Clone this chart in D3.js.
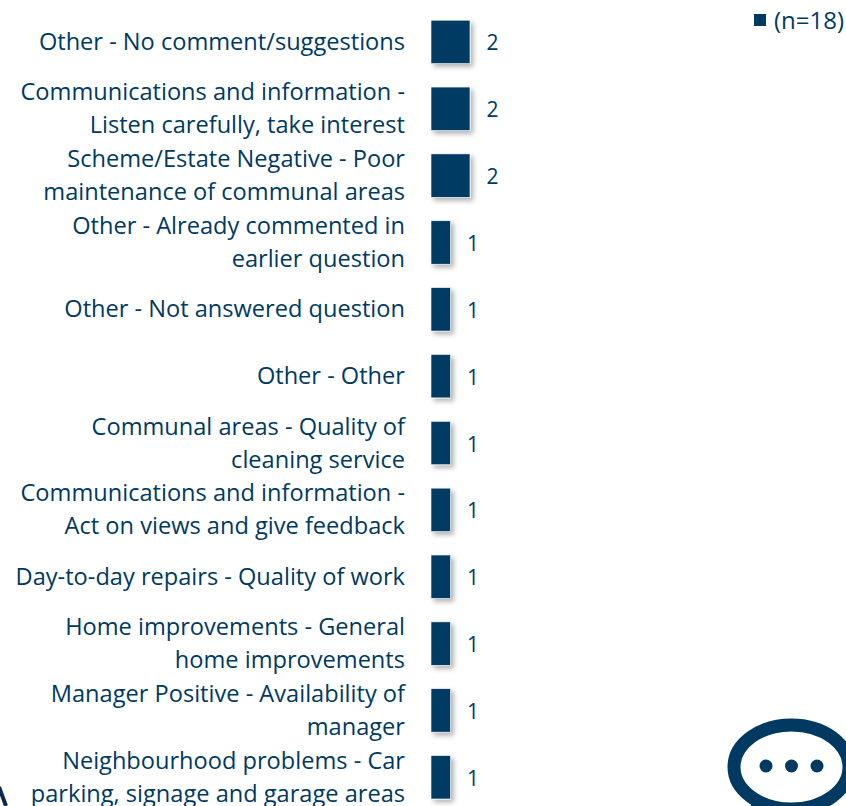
<!DOCTYPE html>
<html>
<head>
<meta charset="utf-8">
<script src="https://cdn.jsdelivr.net/npm/d3@7"></script>
<style>
html, body { margin: 0; padding: 0; background: #fff; overflow: hidden; }
svg { display: block; }
text { font-family: "Open Sans", sans-serif; fill: #003A63; }
</style>
</head>
<body>
<div id="app"></div>
<script>
const categories = [
    ["Other - No comment/suggestions"],
    ["Communications and information -", "Listen carefully, take interest"],
    ["Scheme/Estate Negative - Poor", "maintenance of communal areas"],
    ["Other - Already commented in", "earlier question"],
    ["Other - Not answered question"],
    ["Other - Other"],
    ["Communal areas - Quality of", "cleaning service"],
    ["Communications and information -", "Act on views and give feedback"],
    ["Day-to-day repairs - Quality of work"],
    ["Home improvements - General", "home improvements"],
    ["Manager Positive - Availability of", "manager"],
    ["Neighbourhood problems - Car", "parking, signage and garage areas"]
];
const values = [2, 2, 2, 1, 1, 1, 1, 1, 1, 1, 1, 1];
const legendLabel = "(n=18)";

const navy = "#003A63";
const width = 846;
const height = 806;

const svg = d3.select("#app")
    .append("svg")
        .attr("width", width)
        .attr("height", height);

const shadow = svg.append("defs").append("filter")
    .attr("id", "shadow")
    .attr("x", "-30%").attr("y", "-30%")
    .attr("width", "170%").attr("height", "170%");
shadow.append("feDropShadow")
    .attr("dx", 3).attr("dy", 3)
    .attr("stdDeviation", 2.5)
    .attr("flood-color", "#000")
    .attr("flood-opacity", 0.3);

const x = d3.scaleLinear().domain([0, 2]).range([431, 470]);
const y = d3.scaleBand()
    .domain(d3.range(categories.length))
    .range([8.5, 8.5 + 66.85 * categories.length])
    .paddingInner(0.35)
    .paddingOuter(0.175);

// bars
svg.append("g").selectAll("rect")
    .data(values)
    .join("rect")
        .attr("x", x(0))
        .attr("y", (d, i) => y(i))
        .attr("width", d => x(d) - x(0))
        .attr("height", y.bandwidth())
        .attr("fill", navy)
        .attr("stroke", "#fff")
        .attr("stroke-width", 0.6)
        .attr("filter", "url(#shadow)");

// value labels
svg.append("g").selectAll("text")
    .data(values)
    .join("text")
        .attr("x", d => x(d) + 22.5)
        .attr("y", (d, i) => y(i) + y.bandwidth() / 2 + 8.5)
        .attr("text-anchor", "middle")
        .style("font-size", "21px")
        .text(d => d);

// category labels, one or two lines
const lineHeight = 33;
const labels = svg.append("g").selectAll("text")
    .data(categories)
    .join("text")
        .attr("text-anchor", "end")
        .style("font-size", "23.6px");
labels.selectAll("tspan")
    .data((d, i) => d.map((line, k) => ({
        line,
        yPos: y(i) + y.bandwidth() / 2 + 8 + (k - (d.length - 1) / 2) * lineHeight
    })))
    .join("tspan")
        .attr("x", 405)
        .attr("y", d => d.yPos)
        .text(d => d.line);

// legend
svg.append("rect")
    .attr("x", 754).attr("y", 14)
    .attr("width", 12).attr("height", 12)
    .attr("fill", navy);
svg.append("text")
    .attr("x", 774).attr("y", 29)
    .style("font-size", "24px")
    .text(legendLabel);

// speech bubble icon, bottom right
const bubble = svg.append("g").attr("transform", "translate(791.5,767)");
bubble.append("path")
    .attr("d", "M-36,28 L-44,46 L-6,36 Z")
    .attr("fill", navy);
bubble.append("ellipse")
    .attr("rx", 57.5).attr("ry", 42)
    .attr("fill", "#fff")
    .attr("stroke", navy)
    .attr("stroke-width", 13);
bubble.selectAll("circle")
    .data([-25.5, 0, 25.5])
    .join("circle")
        .attr("cx", d => d)
        .attr("cy", -1)
        .attr("r", 6.5)
        .attr("fill", navy);

// corner of another icon, bottom left
svg.append("path")
    .attr("d", "M-1,787 L6,806")
    .attr("fill", "none")
    .attr("stroke", "#0c2a4d")
    .attr("stroke-width", 4);
</script>
</body>
</html>
